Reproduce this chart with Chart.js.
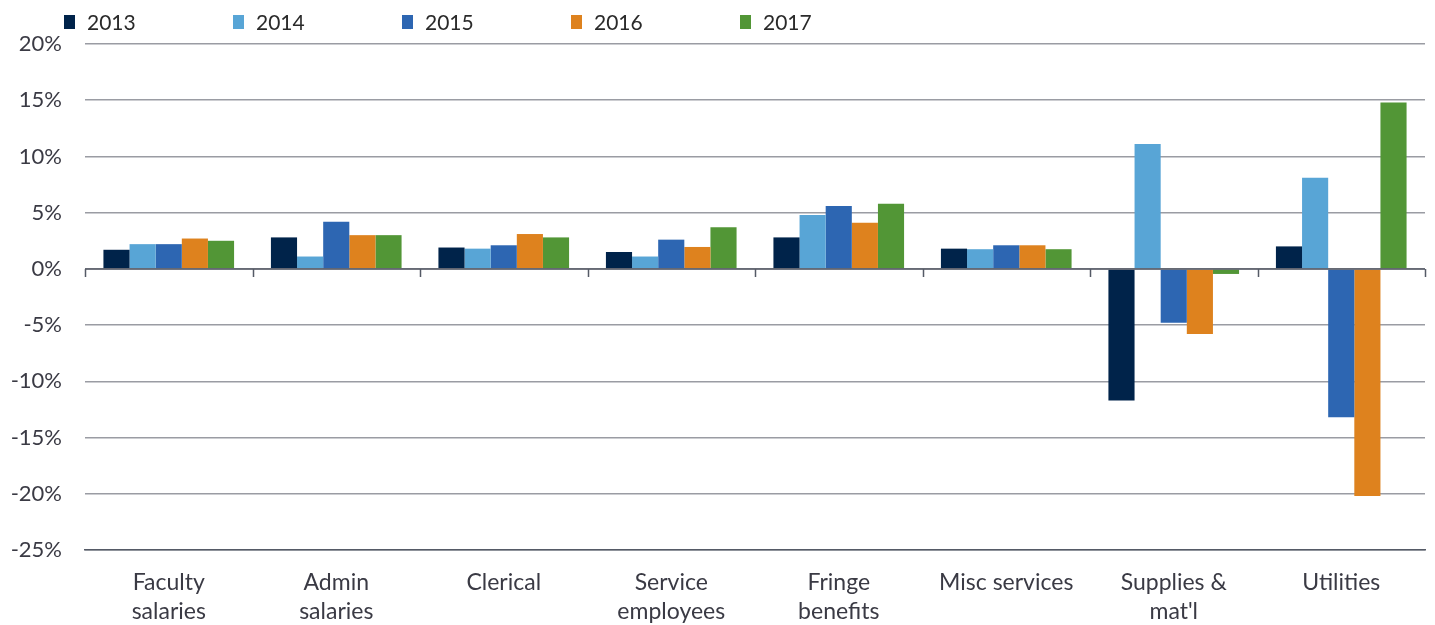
<!DOCTYPE html>
<html>
<head>
<meta charset="utf-8">
<script src="https://cdn.jsdelivr.net/npm/chart.js@4.4.1/dist/chart.umd.min.js"></script>
<style>
  html, body { margin: 0; padding: 0; background: #fff; }
  #wrap { position: relative; width: 1435px; height: 625px; }
  #legend { position: absolute; left: 64px; top: 9px; display: flex; font-family: Lato, sans-serif; font-size: 21px; color: #2a2a2a; }
  #legend .item { width: 169px; flex-shrink: 0; display: flex; align-items: center; }
  #legend .box { width: 11px; height: 14px; margin-right: 12px; }
</style>
</head>
<body>
<div id="wrap">
  <canvas id="chart" width="1435" height="625"></canvas>
  <div id="legend"></div>
</div>
<script>
// kategori dan data (persen)
const kategori = [
  ['Faculty', 'salaries'], ['Admin', 'salaries'], 'Clerical', ['Service', 'employees'],
  ['Fringe', 'benefits'], 'Misc services', ['Supplies &', "mat'l"], 'Utilities'
];
const tahun = ['2013', '2014', '2015', '2016', '2017'];
const warna = ['#00234a', '#58a5d6', '#2d66b2', '#de821e', '#529636'];

const data2013 = [1.7, 2.8, 1.9, 1.5, 2.8, 1.8, -11.7, 2.0];
const data2014 = [2.2, 1.1, 1.8, 1.1, 4.8, 1.75, 11.1, 8.1];
const data2015 = [2.2, 4.2, 2.1, 2.6, 5.6, 2.1, -4.8, -13.2];
const data2016 = [2.7, 3.0, 3.1, 1.95, 4.1, 2.1, -5.8, -20.2];
const data2017 = [2.5, 3.0, 2.8, 3.7, 5.8, 1.75, -0.45, 14.8];
const semuaData = [data2013, data2014, data2015, data2016, data2017];

const yTicks = [-25, -20, -15, -10, -5, 0, 5, 10, 15, 20];

// legend HTML
const legendEl = document.getElementById('legend');
tahun.forEach((t, i) => {
  const it = document.createElement('div');
  it.className = 'item';
  it.innerHTML = '<span class="box" style="background:' + warna[i] + '"></span><span>' + t + '</span>';
  legendEl.appendChild(it);
});

// garis nol + tick kecil di batas kategori
const zeroTicks = {
  id: 'zeroTicks',
  afterDatasetsDraw(chart) {
    const x = chart.scales.x, y = chart.scales.y;
    const ctx = chart.ctx;
    const y0 = y.getPixelForValue(0);
    const step = x.getPixelForValue(1) - x.getPixelForValue(0);
    ctx.save();
    ctx.strokeStyle = '#555a66';
    ctx.lineWidth = 1.5;
    ctx.beginPath();
    ctx.moveTo(chart.chartArea.left, y0);
    ctx.lineTo(chart.chartArea.right, y0);
    for (let i = 0; i <= kategori.length; i++) {
      const px = Math.round(x.getPixelForValue(i) - step / 2) + 0.5;
      ctx.moveTo(px, y0);
      ctx.lineTo(px, y0 + 8);
    }
    ctx.stroke();
    ctx.restore();
  }
};

new Chart(document.getElementById('chart').getContext('2d'), {
  type: 'bar',
  data: {
    labels: kategori,
    datasets: tahun.map((t, i) => ({
      label: t,
      data: semuaData[i],
      backgroundColor: warna[i],
      categoryPercentage: 0.78,
      barPercentage: 1.0
    }))
  },
  options: {
    responsive: false,
    animation: false,
    layout: { padding: { top: 44, right: 10, left: 0, bottom: 0 } },
    plugins: { legend: { display: false }, tooltip: { enabled: false } },
    scales: {
      x: {
        grid: { display: false, drawTicks: false },
        border: { display: true, color: '#555a66', width: 1.5 },
        ticks: {
          font: { family: 'Lato, sans-serif', size: 23, lineHeight: 1.22 },
          color: '#3a3a44', padding: 19, maxRotation: 0, autoSkip: false
        },
        afterFit: s => { s.height = 75; }
      },
      y: {
        min: -25,
        max: 20,
        afterBuildTicks: s => { s.ticks = yTicks.map(v => ({ value: v })); },
        grid: { color: '#9a9ca3', lineWidth: 1.5, drawTicks: false },
        border: { display: false },
        ticks: {
          font: { family: 'Lato, sans-serif', size: 22 },
          color: '#3a3a44', padding: 23, callback: v => v + '%'
        },
        afterFit: s => { s.width = 85; }
      }
    }
  },
  plugins: [zeroTicks]
});
</script>
</body>
</html>
